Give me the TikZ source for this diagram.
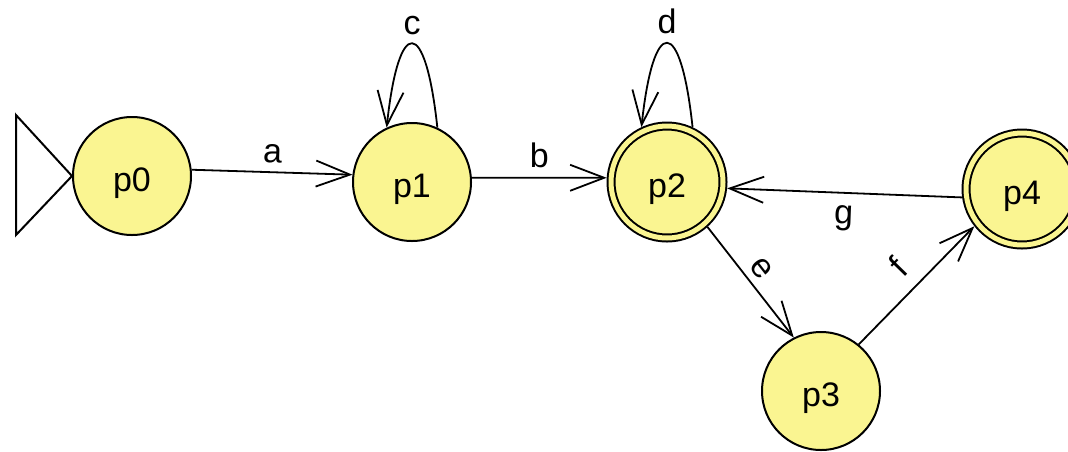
\documentclass[tikz,border=0pt]{standalone}
\usepackage{fontspec}
\setmainfont{Liberation Sans}
\usetikzlibrary{arrows.meta}
\definecolor{statefill}{RGB}{250,245,145}
\begin{document}
\begin{tikzpicture}[x=1pt,y=-1pt,
  every node/.style={font=\fontsize{34}{36}\selectfont},
  state/.style={circle, draw, line width=2pt, fill=statefill, minimum size=118pt,
    inner sep=0pt, text height=30pt, text depth=0pt},
  accepting/.style={double=statefill, double distance=5pt, minimum size=112pt, outer sep=4.5pt},
  edge/.style={line width=1.8pt, -{Straight Barb[length=34pt,width=26pt,line width=1.8pt]}},
  lbl/.style={inner sep=0pt, sloped}]
\useasboundingbox (0,0) rectangle (1068,451);
\node[state] (p0) at (132,176) {p0};
\node[state] (p1) at (412,182) {p1};
\node[state,accepting] (p2) at (667,182) {p2};
\node[state] (p3) at (821,391) {p3};
\node[state,accepting] (p4) at (1022,189) {p4};
% initial marker
\coordinate (t1) at (16,115);
\coordinate (t2) at (16,235);
\draw[line width=2pt, fill=white, line join=miter] (t1) -- (p0.west) -- (t2) -- cycle;
% transitions
\draw[edge] (p0.6) -- (p1.173) node[lbl, pos=.5, above=8pt] {a};
\draw[edge] (p1.4) -- (p2.176) node[lbl, pos=.5, above=9pt] {b};
\draw[edge] (p1.65) .. controls +(-12,-112) and +(12,-112) .. (p1.115)
  node[pos=.5, above=8pt, inner sep=0pt] {c};
\draw[edge] (p2.65) .. controls +(-12,-112) and +(12,-112) .. (p2.115)
  node[pos=.5, above=8pt, inner sep=0pt] {d};
\draw[edge] (p2.-48) -- (p3.117) node[lbl, pos=.47, above=7pt] {e};
\draw[edge] (p3.51) -- (p4.218) node[lbl, pos=.5, above=13pt] {f};
\draw[edge] (p4.188) -- (p2.-6) node[lbl, pos=.5, below=12pt] {g};
\end{tikzpicture}
\end{document}
